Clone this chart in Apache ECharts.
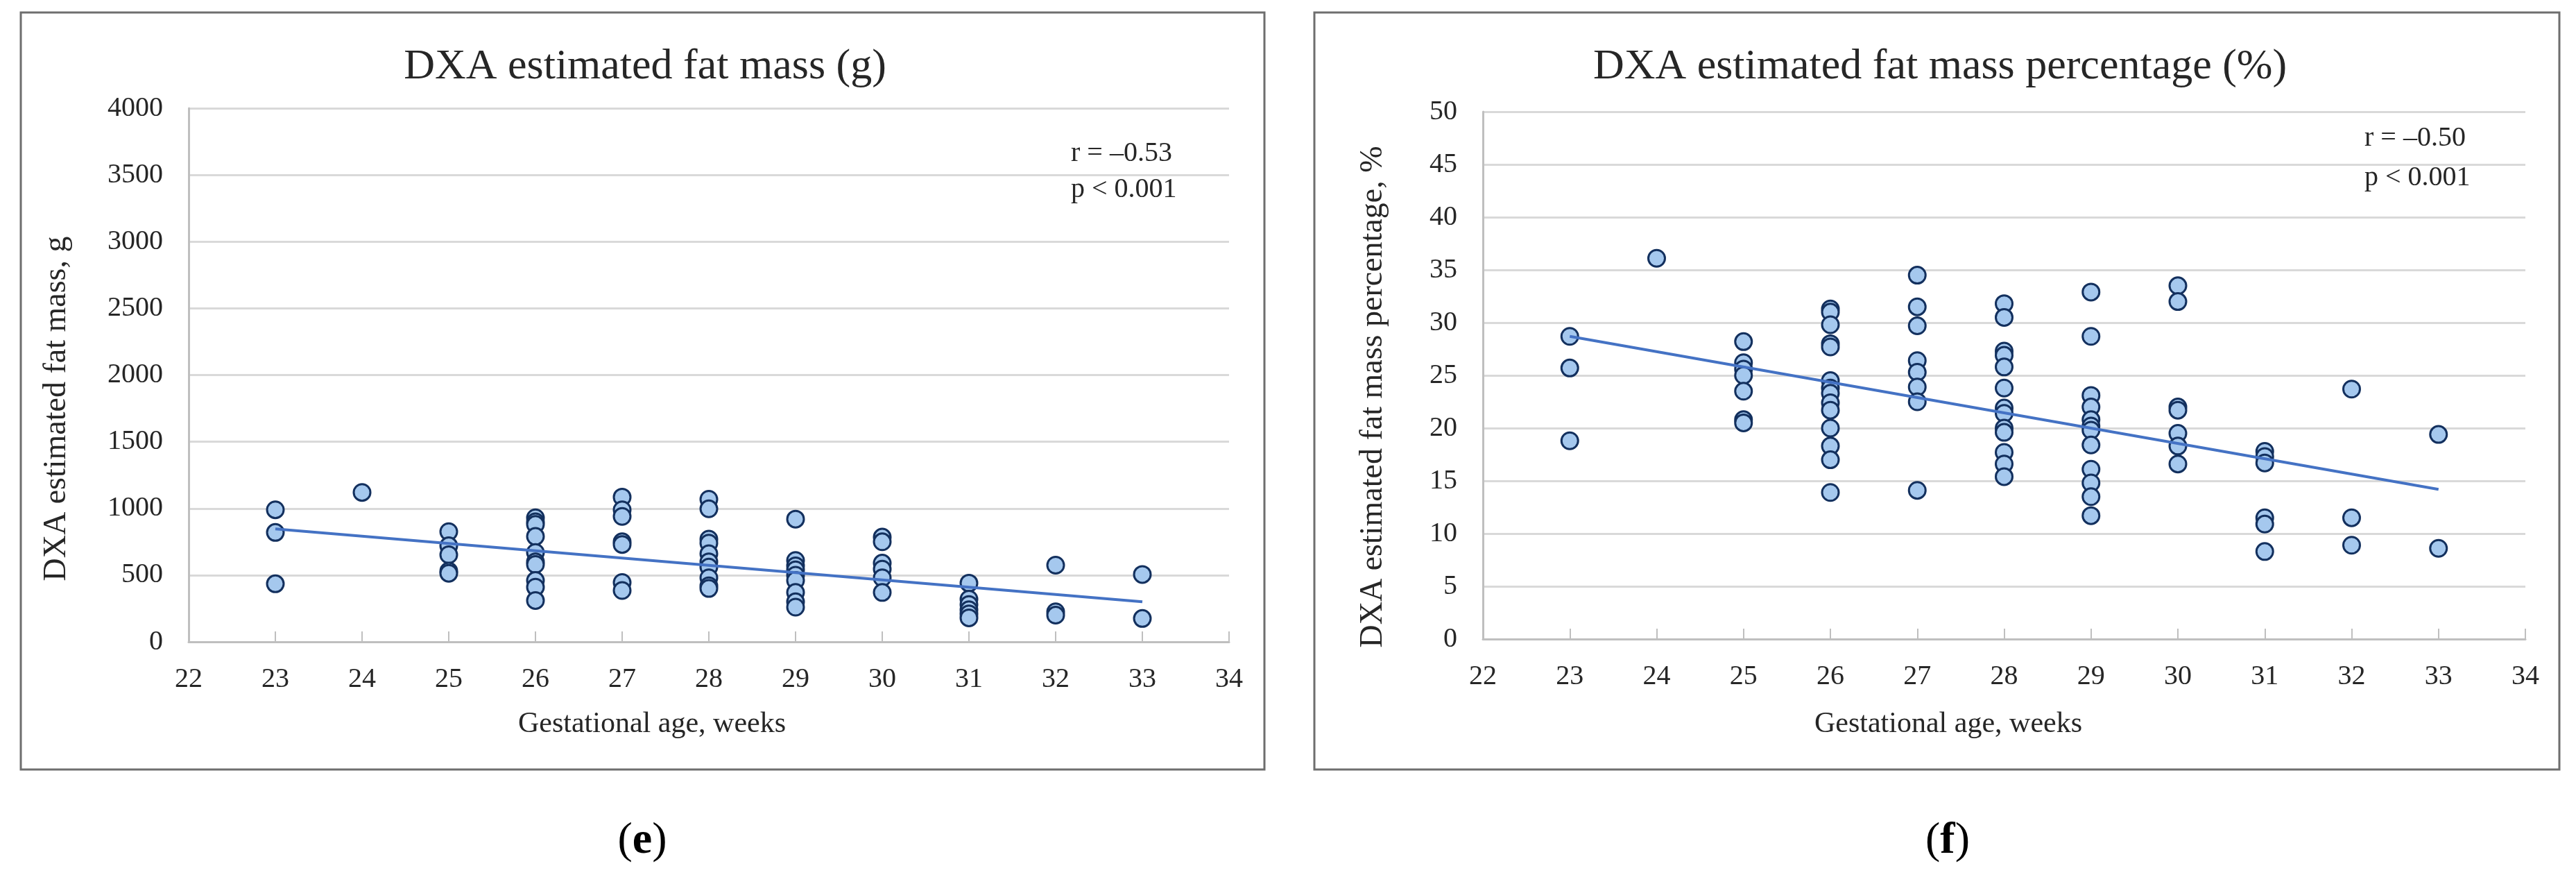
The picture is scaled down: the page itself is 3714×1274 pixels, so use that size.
<!DOCTYPE html>
<html>
<head>
<meta charset="utf-8">
<script src="https://cdn.jsdelivr.net/npm/echarts@6/dist/echarts.min.js"></script>
<style>
html,body{margin:0;padding:0;background:#ffffff;}
#chart{width:3714px;height:1274px;}
</style>
</head>
<body>
<div id="chart"></div>
<script>
// ---- Data ----
const panelTitles = ['DXA estimated fat mass (g)', 'DXA estimated fat mass percentage (%)'];
const yAxisNames = ['DXA estimated fat mass, g', 'DXA estimated fat mass percentage, %'];
const xAxisName = 'Gestational age, weeks';
const panelLetters = ['e', 'f'];
const statsE = ['r = \u20130.53', 'p < 0.001'];
const statsF = ['r = \u20130.50', 'p < 0.001'];

// (gestational week, fat mass in g)
const fatMassGrams = [
  [23,990],[23,820],[23,435],
  [24,1120],
  [25,826],[25,720],[25,653],[25,530],[25,514],
  [26,930],[26,900],[26,880],[26,790],[26,670],[26,600],[26,580],[26,460],[26,410],[26,310],
  [27,1085],[27,990],[27,940],[27,750],[27,730],[27,445],[27,385],
  [28,1069],[28,997],[28,770],[28,740],[28,660],[28,600],[28,560],[28,480],[28,420],[28,400],
  [29,920],[29,610],[29,570],[29,540],[29,500],[29,460],[29,370],[29,300],[29,260],
  [30,785],[30,750],[30,590],[30,545],[30,480],[30,370],
  [31,440],[31,320],[31,280],[31,240],[31,210],[31,180],
  [32,575],[32,225],[32,200],
  [33,505],[33,175]
];
const trendFatMassGrams = [[23,847],[33,300]];

// (gestational week, fat mass %)
const fatMassPercent = [
  [23,28.7],[23,25.7],[23,18.8],
  [24,36.1],
  [25,28.2],[25,26.2],[25,25.6],[25,25.0],[25,23.5],[25,20.8],[25,20.5],
  [26,31.3],[26,31.0],[26,29.8],[26,28.0],[26,27.7],[26,24.5],[26,23.8],[26,23.3],[26,22.4],[26,21.7],[26,20.0],[26,18.3],[26,17.0],[26,13.9],
  [27,34.5],[27,31.5],[27,29.7],[27,26.4],[27,25.3],[27,23.9],[27,22.5],[27,14.1],
  [28,31.8],[28,30.5],[28,27.3],[28,26.9],[28,25.8],[28,23.8],[28,21.9],[28,21.4],[28,20.0],[28,19.6],[28,17.7],[28,16.6],[28,15.4],
  [29,32.9],[29,28.7],[29,23.1],[29,22.0],[29,20.8],[29,20.2],[29,19.8],[29,18.4],[29,16.1],[29,14.8],[29,13.5],[29,11.7],
  [30,33.5],[30,32.0],[30,22.0],[30,21.7],[30,19.5],[30,18.3],[30,16.6],
  [31,17.8],[31,17.3],[31,16.7],[31,11.5],[31,10.9],[31,8.3],
  [32,23.7],[32,11.5],[32,8.9],
  [33,19.4],[33,8.6]
];
const trendFatMassPercent = [[23,28.7],[33,14.2]];

// ---- Styling ----
const FONT = '"Liberation Serif", "Times New Roman", serif';
const TXT = '#262626';
const GRID_C = '#d9d9d9';
const AXIS_C = '#bfbfbf';

function xAx(gi) {
  return {
    type: 'value', gridIndex: gi, min: 22, max: 34, interval: 1,
    axisLine: { show: true, onZero: false, lineStyle: { color: AXIS_C, width: 3 } },
    axisTick: { show: true, inside: true, length: 15, lineStyle: { color: AXIS_C, width: 2 } },
    axisLabel: { color: TXT, fontFamily: FONT, fontSize: 40, margin: 34, formatter: function (v) { return String(v); } },
    splitLine: { show: false }
  };
}
function yAx(gi, max, interval) {
  return {
    type: 'value', gridIndex: gi, min: 0, max: max, interval: interval,
    axisLine: { show: true, lineStyle: { color: AXIS_C, width: 3 } },
    axisTick: { show: false },
    axisLabel: { color: TXT, fontFamily: FONT, fontSize: 40, margin: 37, formatter: function (v) { return String(v); } },
    splitLine: { show: true, lineStyle: { color: GRID_C, width: 3 } }
  };
}
const markerStyle = { color: '#A5C8EE', borderColor: '#13305E', borderWidth: 3, opacity: 1 };
const trendStyle = { color: '#4472C4', width: 4 };

function txt(text, x, y, size, opts) {
  return Object.assign({
    type: 'text', x: x, y: y, z: 100,
    style: Object.assign({ text: text, fill: TXT, fontFamily: FONT, fontSize: size,
      align: 'center', verticalAlign: 'middle' }, (opts && opts.style) || {})
  }, (opts && opts.el) || {});
}

const chart = echarts.init(document.getElementById('chart'), null, { renderer: 'canvas' });
chart.setOption({
  backgroundColor: '#ffffff',
  animation: false,
  grid: [
    { left: 272, top: 156, width: 1500, height: 769 },
    { left: 2138, top: 161, width: 1503, height: 760 }
  ],
  xAxis: [xAx(0), xAx(1)],
  yAxis: [yAx(0, 4000, 500), yAx(1, 50, 5)],
  series: [
    { type: 'scatter', xAxisIndex: 0, yAxisIndex: 0, data: fatMassGrams, symbol: 'circle', symbolSize: 24, itemStyle: markerStyle, z: 2 },
    { type: 'line', xAxisIndex: 0, yAxisIndex: 0, data: trendFatMassGrams, showSymbol: false, symbol: 'none', lineStyle: trendStyle, z: 3 },
    { type: 'scatter', xAxisIndex: 1, yAxisIndex: 1, data: fatMassPercent, symbol: 'circle', symbolSize: 24, itemStyle: markerStyle, z: 2 },
    { type: 'line', xAxisIndex: 1, yAxisIndex: 1, data: trendFatMassPercent, showSymbol: false, symbol: 'none', lineStyle: trendStyle, z: 3 }
  ],
  graphic: [
    { type: 'rect', shape: { x: 30, y: 18, width: 1793, height: 1091 }, style: { fill: 'none', stroke: '#6e6e6e', lineWidth: 3 }, z: 0, silent: true },
    { type: 'rect', shape: { x: 1895, y: 18, width: 1795, height: 1091 }, style: { fill: 'none', stroke: '#6e6e6e', lineWidth: 3 }, z: 0, silent: true },
    txt(panelTitles[0], 930, 97, 62),
    txt(panelTitles[1], 2797, 97, 62),
    txt(yAxisNames[0], 82, 589, 46, { el: { rotation: Math.PI / 2 } }),
    txt(yAxisNames[1], 1980, 572, 46, { el: { rotation: Math.PI / 2 } }),
    txt(xAxisName, 940, 1044, 42),
    txt(xAxisName, 2809, 1044, 42),
    txt(statsE[0], 1544, 221, 40, { style: { align: 'left' } }),
    txt(statsE[1], 1544, 273, 40, { style: { align: 'left' } }),
    txt(statsF[0], 3409, 199, 40, { style: { align: 'left' } }),
    txt(statsF[1], 3409, 256, 40, { style: { align: 'left' } }),
    { type: 'text', x: 926, y: 1212, z: 100, style: { text: '{n|(}{b|' + panelLetters[0] + '}{n|)}', align: 'center', verticalAlign: 'middle', fill: '#000',
        rich: { n: { fontFamily: FONT, fontSize: 64, fill: '#000' }, b: { fontFamily: FONT, fontSize: 64, fontWeight: 'bold', fill: '#000' } } } },
    { type: 'text', x: 2808, y: 1212, z: 100, style: { text: '{n|(}{b|' + panelLetters[1] + '}{n|)}', align: 'center', verticalAlign: 'middle', fill: '#000',
        rich: { n: { fontFamily: FONT, fontSize: 64, fill: '#000' }, b: { fontFamily: FONT, fontSize: 64, fontWeight: 'bold', fill: '#000' } } } }
  ]
});
</script>
</body>
</html>
